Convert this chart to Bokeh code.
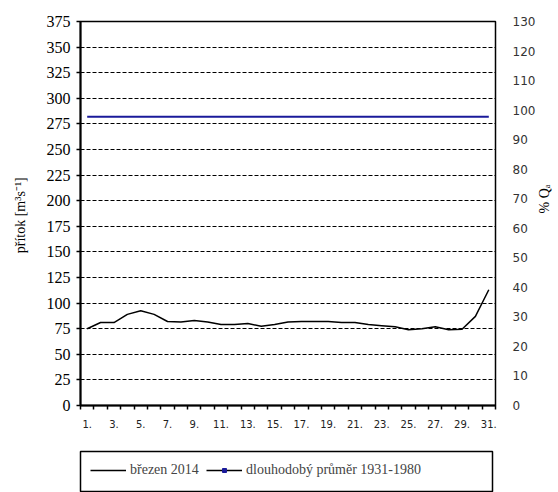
import math
from bokeh.plotting import figure
from bokeh.models import Range1d, LinearAxis, FixedTicker, Legend, LegendItem, ColumnDataSource
from bokeh.layouts import column
from bokeh.embed import file_html
from bokeh.resources import INLINE

# ---- data ----
days = [1, 2, 3, 4, 5, 6, 7, 8, 9, 10, 11, 12, 13, 14, 15, 16, 17, 18, 19, 20,
        21, 22, 23, 24, 25, 26, 27, 28, 29, 30, 31]
flow_2014 = [75, 81, 81, 89, 92.5, 89, 82, 81.5, 83, 81.5, 79, 79, 80, 77.5, 79, 81.5,
             82, 82, 82, 81, 81, 79, 78, 77, 74, 75, 77, 74, 74.5, 87, 113]
longterm_mean = 282.0
day_tick_days = [1, 3, 5, 7, 9, 11, 13, 15, 17, 19, 21, 23, 25, 27, 29, 31]
day_tick_labels = ["1.", "3.", "5.", "7.", "9.", "11.", "13.", "15.", "17.", "19.",
                   "21.", "23.", "25.", "27.", "29.", "31."]
day_bounds = [0.5, 1.5, 2.5, 3.5, 4.5, 5.5, 6.5, 7.5, 8.5, 9.5, 10.5, 11.5, 12.5, 13.5,
              14.5, 15.5, 16.5, 17.5, 18.5, 19.5, 20.5, 21.5, 22.5, 23.5, 24.5, 25.5,
              26.5, 27.5, 28.5, 29.5, 30.5, 31.5]
flow_ticks = [0, 25, 50, 75, 100, 125, 150, 175, 200, 225, 250, 275, 300, 325, 350, 375]
pct_ticks = [0, 10, 20, 30, 40, 50, 60, 70, 80, 90, 100, 110, 120, 130]
series_label = "březen 2014"
mean_label = "dlouhodobý průměr 1931-1980"

SERIF = "Liberation Serif"
SANS = "DejaVu Sans"

p = figure(frame_width=415, frame_height=384,
           min_border_left=80, min_border_right=55, min_border_top=21, min_border_bottom=43,
           x_range=Range1d(day_bounds[0], day_bounds[-1]),
           y_range=Range1d(flow_ticks[0], flow_ticks[-1]),
           output_backend="svg", toolbar_location=None, tools="")
p.extra_y_ranges = {"pct": Range1d(pct_ticks[0], pct_ticks[-1])}
p.outline_line_color = "black"
p.outline_line_width = 1.5
p.background_fill_color = "white"
p.border_fill_color = "white"

# grid
p.xgrid.visible = False
p.ygrid.ticker = FixedTicker(ticks=flow_ticks)
p.ygrid.grid_line_color = "black"
p.ygrid.grid_line_dash = "4 2"
p.ygrid.grid_line_width = 1.2

# x axis
xa = p.xaxis[0]
xa.ticker = FixedTicker(ticks=day_tick_days, minor_ticks=day_bounds)
xa.major_label_overrides = {d: l for d, l in zip(day_tick_days, day_tick_labels)}
xa.major_tick_line_alpha = 0
xa.major_tick_out = 0
xa.major_tick_in = 0
xa.minor_tick_out = 4
xa.minor_tick_in = 0
xa.minor_tick_line_width = 1.5
xa.minor_tick_line_color = "black"
xa.axis_line_width = 2
xa.axis_line_color = "black"
xa.major_label_text_font = SANS
xa.major_label_text_font_size = "10px"
xa.major_label_text_color = "#222222"
xa.major_label_standoff = 10

# left axis
ya = p.yaxis[0]
ya.ticker = FixedTicker(ticks=flow_ticks)
ya.major_label_text_font = SERIF
ya.major_label_text_font_size = "16px"
ya.major_label_text_font_style = "normal"
ya.major_label_text_color = "black"
ya.major_tick_out = 4
ya.major_tick_in = 0
ya.major_tick_line_width = 1.5
ya.minor_tick_line_alpha = 0
ya.axis_line_width = 2
ya.axis_line_color = "black"
ya.major_label_standoff = 6
ya.axis_label = "přítok  [m³s⁻¹]"
ya.axis_label_text_font = SERIF
ya.axis_label_text_font_size = "14px"
ya.axis_label_text_font_style = "normal"
ya.axis_label_text_color = "black"
ya.axis_label_standoff = 16

# right axis
ra = LinearAxis(y_range_name="pct", ticker=FixedTicker(ticks=pct_ticks))
ra.axis_line_alpha = 0
ra.major_tick_out = 0
ra.major_tick_in = 0
ra.minor_tick_line_alpha = 0
ra.major_tick_line_alpha = 0
ra.major_label_text_font = SANS
ra.major_label_text_font_size = "12px"
ra.major_label_text_color = "#333333"
ra.major_label_standoff = 17
ra.axis_label = "% Qₐ"
ra.axis_label_text_font = SERIF
ra.axis_label_text_font_size = "14px"
ra.axis_label_text_font_style = "normal"
ra.axis_label_text_color = "black"
ra.axis_label_standoff = 6
if "axis_label_orientation" in ra.properties():
    ra.axis_label_orientation = math.pi / 2
p.add_layout(ra, "right")

# data glyphs
src = ColumnDataSource(dict(day=days, flow=flow_2014))
p.line("day", "flow", source=src, line_color="black", line_width=1.5, line_join="round")
p.segment(x0=days[0], x1=days[-1], y0=longterm_mean, y1=longterm_mean,
          line_color="#1a1a9a", line_width=2)

# legend panel (separate figure acting as the boxed legend)
lg = figure(frame_width=412, frame_height=40, min_border_left=80, min_border_right=58,
            min_border_top=3, min_border_bottom=1,
            x_range=Range1d(0, 1), y_range=Range1d(0, 1),
            x_axis_location=None, y_axis_location=None,
            output_backend="svg", toolbar_location=None, tools="")
lg.xgrid.visible = False
lg.ygrid.visible = False
lg.outline_line_color = "black"
lg.outline_line_width = 1.5
offscreen = ColumnDataSource(dict(x=[-5, -4], y=[-5, -5]))
r1 = lg.line("x", "y", source=offscreen, line_color="black", line_width=1.5)
r2 = lg.line("x", "y", source=offscreen, line_color="black", line_width=1.5)
r3 = lg.scatter("x", "y", source=offscreen, marker="square", size=4,
                fill_color="#1a1a9a", line_color="#1a1a9a")
leg = Legend(items=[LegendItem(label=series_label, renderers=[r1]),
                    LegendItem(label=mean_label, renderers=[r2, r3])],
             orientation="horizontal", location=(10, 13),
             margin=0, padding=0, spacing=4, glyph_width=36, glyph_height=10,
             label_height=10, label_standoff=4, label_width=72,
             label_text_font=SERIF, label_text_font_size="14px",
             border_line_alpha=0, background_fill_alpha=0)
lg.add_layout(leg)

layout = column(p, lg, spacing=0)
open("out.html", "w").write(file_html(layout, INLINE))
